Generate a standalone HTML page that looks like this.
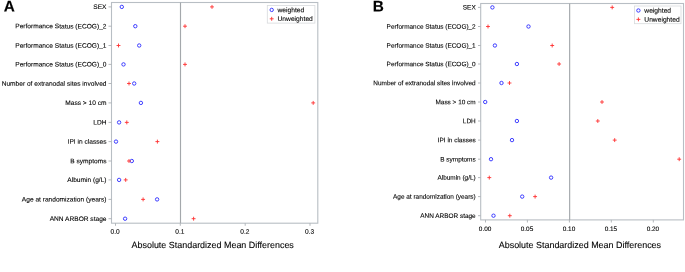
<!DOCTYPE html>
<html><head><meta charset="utf-8"><style>
html,body{margin:0;padding:0;background:#fff;}
svg{display:block;will-change:transform;font-family:"Liberation Sans",sans-serif;}
text{fill:#000;stroke:#000;stroke-width:0.1px;text-rendering:geometricPrecision;}
</style></head><body>
<svg width="685" height="272" viewBox="0 0 685 272">
<rect width="685" height="272" fill="#fff"/>
<rect x="111.5" y="2.5" width="206.3" height="220.7" fill="#fff" stroke="#b8bec4" stroke-width="1.1"/>
<line x1="180.5" y1="2.5" x2="180.5" y2="223.2" stroke="#a4a8ac" stroke-width="1.15"/>
<line x1="108.5" y1="6.9" x2="111.5" y2="6.9" stroke="#acb0b4" stroke-width="0.9"/>
<text transform="translate(106.50,9.10) rotate(0.03)" text-anchor="end" font-size="6.6">SEX</text>
<line x1="108.5" y1="26.2" x2="111.5" y2="26.2" stroke="#acb0b4" stroke-width="0.9"/>
<text transform="translate(106.50,28.40) rotate(0.03)" text-anchor="end" font-size="6.6">Performance Status (ECOG)_2</text>
<line x1="108.5" y1="45.5" x2="111.5" y2="45.5" stroke="#acb0b4" stroke-width="0.9"/>
<text transform="translate(106.50,47.70) rotate(0.03)" text-anchor="end" font-size="6.6">Performance Status (ECOG)_1</text>
<line x1="108.5" y1="64.4" x2="111.5" y2="64.4" stroke="#acb0b4" stroke-width="0.9"/>
<text transform="translate(106.50,66.60) rotate(0.03)" text-anchor="end" font-size="6.6">Performance Status (ECOG)_0</text>
<line x1="108.5" y1="83.5" x2="111.5" y2="83.5" stroke="#acb0b4" stroke-width="0.9"/>
<text transform="translate(106.50,85.70) rotate(0.03)" text-anchor="end" font-size="6.6">Number of extranodal sites involved</text>
<line x1="108.5" y1="102.9" x2="111.5" y2="102.9" stroke="#acb0b4" stroke-width="0.9"/>
<text transform="translate(106.50,105.10) rotate(0.03)" text-anchor="end" font-size="6.6">Mass &gt; 10 cm</text>
<line x1="108.5" y1="122.4" x2="111.5" y2="122.4" stroke="#acb0b4" stroke-width="0.9"/>
<text transform="translate(106.50,124.60) rotate(0.03)" text-anchor="end" font-size="6.6">LDH</text>
<line x1="108.5" y1="141.6" x2="111.5" y2="141.6" stroke="#acb0b4" stroke-width="0.9"/>
<text transform="translate(106.50,143.80) rotate(0.03)" text-anchor="end" font-size="6.6">IPI in classes</text>
<line x1="108.5" y1="161.0" x2="111.5" y2="161.0" stroke="#acb0b4" stroke-width="0.9"/>
<text transform="translate(106.50,163.20) rotate(0.03)" text-anchor="end" font-size="6.6">B symptoms</text>
<line x1="108.5" y1="179.9" x2="111.5" y2="179.9" stroke="#acb0b4" stroke-width="0.9"/>
<text transform="translate(106.50,182.10) rotate(0.03)" text-anchor="end" font-size="6.6">Albumin (g/L)</text>
<line x1="108.5" y1="199.4" x2="111.5" y2="199.4" stroke="#acb0b4" stroke-width="0.9"/>
<text transform="translate(106.50,201.60) rotate(0.03)" text-anchor="end" font-size="6.6">Age at randomization (years)</text>
<line x1="108.5" y1="218.7" x2="111.5" y2="218.7" stroke="#acb0b4" stroke-width="0.9"/>
<text transform="translate(106.50,220.90) rotate(0.03)" text-anchor="end" font-size="6.6">ANN ARBOR stage</text>
<line x1="115.5" y1="223.2" x2="115.5" y2="225.79999999999998" stroke="#acb0b4" stroke-width="0.9"/>
<text transform="translate(115.10,233.80) rotate(0.03)" text-anchor="middle" font-size="6.6">0.0</text>
<line x1="180.3" y1="223.2" x2="180.3" y2="225.79999999999998" stroke="#acb0b4" stroke-width="0.9"/>
<text transform="translate(179.90,233.80) rotate(0.03)" text-anchor="middle" font-size="6.6">0.1</text>
<line x1="245.2" y1="223.2" x2="245.2" y2="225.79999999999998" stroke="#acb0b4" stroke-width="0.9"/>
<text transform="translate(244.80,233.80) rotate(0.03)" text-anchor="middle" font-size="6.6">0.2</text>
<line x1="310.0" y1="223.2" x2="310.0" y2="225.79999999999998" stroke="#acb0b4" stroke-width="0.9"/>
<text transform="translate(309.60,233.80) rotate(0.03)" text-anchor="middle" font-size="6.6">0.3</text>
<text transform="translate(212.70,248.00) rotate(0.03)" text-anchor="middle" font-size="8.95">Absolute Standardized Mean Differences</text>
<circle cx="121.8" cy="6.9" r="1.7" fill="none" stroke="#2a2aff" stroke-width="0.9"/>
<path d="M210.05 6.9H213.95M212.0 4.95V8.85" stroke="#ff3030" stroke-width="0.9" fill="none"/>
<circle cx="135.3" cy="26.2" r="1.7" fill="none" stroke="#2a2aff" stroke-width="0.9"/>
<path d="M183.05 26.2H186.95M185.0 24.25V28.15" stroke="#ff3030" stroke-width="0.9" fill="none"/>
<circle cx="139.2" cy="45.5" r="1.7" fill="none" stroke="#2a2aff" stroke-width="0.9"/>
<path d="M116.55 45.5H120.45M118.5 43.55V47.45" stroke="#ff3030" stroke-width="0.9" fill="none"/>
<circle cx="123.5" cy="64.4" r="1.7" fill="none" stroke="#2a2aff" stroke-width="0.9"/>
<path d="M183.05 64.4H186.95M185.0 62.45V66.35" stroke="#ff3030" stroke-width="0.9" fill="none"/>
<circle cx="134.2" cy="83.5" r="1.7" fill="none" stroke="#2a2aff" stroke-width="0.9"/>
<path d="M127.05 83.5H130.95M129.0 81.55V85.45" stroke="#ff3030" stroke-width="0.9" fill="none"/>
<circle cx="140.9" cy="102.9" r="1.7" fill="none" stroke="#2a2aff" stroke-width="0.9"/>
<path d="M311.25 102.9H315.15M313.2 100.95V104.85" stroke="#ff3030" stroke-width="0.9" fill="none"/>
<circle cx="119.1" cy="122.4" r="1.7" fill="none" stroke="#2a2aff" stroke-width="0.9"/>
<path d="M124.85 122.4H128.75M126.8 120.45V124.35" stroke="#ff3030" stroke-width="0.9" fill="none"/>
<circle cx="116.0" cy="141.6" r="1.7" fill="none" stroke="#2a2aff" stroke-width="0.9"/>
<path d="M155.45 141.6H159.35M157.4 139.65V143.55" stroke="#ff3030" stroke-width="0.9" fill="none"/>
<circle cx="131.8" cy="161.0" r="1.7" fill="none" stroke="#2a2aff" stroke-width="0.9"/>
<path d="M127.05 161.0H130.95M129.0 159.05V162.95" stroke="#ff3030" stroke-width="0.9" fill="none"/>
<circle cx="119.1" cy="179.9" r="1.7" fill="none" stroke="#2a2aff" stroke-width="0.9"/>
<path d="M123.75 179.9H127.65M125.7 177.95V181.85" stroke="#ff3030" stroke-width="0.9" fill="none"/>
<circle cx="157.1" cy="199.4" r="1.7" fill="none" stroke="#2a2aff" stroke-width="0.9"/>
<path d="M141.15 199.4H145.05M143.1 197.45V201.35" stroke="#ff3030" stroke-width="0.9" fill="none"/>
<circle cx="125.1" cy="218.7" r="1.7" fill="none" stroke="#2a2aff" stroke-width="0.9"/>
<path d="M191.65 218.7H195.55M193.6 216.75V220.65" stroke="#ff3030" stroke-width="0.9" fill="none"/>
<rect x="267.3" y="5.4" width="47.6" height="17.7" fill="#fff" stroke="#d8dadc" stroke-width="0.8"/>
<circle cx="271.7" cy="9.9" r="1.7" fill="none" stroke="#2a2aff" stroke-width="0.9"/>
<path d="M269.75 18.8H273.65M271.7 16.85V20.75" stroke="#ff3030" stroke-width="0.9" fill="none"/>
<text transform="translate(277.50,12.20) rotate(0.03)" text-anchor="start" font-size="6.7" stroke="none" fill="#222">weighted</text>
<text transform="translate(277.50,21.10) rotate(0.03)" text-anchor="start" font-size="6.7" stroke="none" fill="#222">Unweighted</text>
<text transform="translate(3.67,11.55) rotate(0.03)" font-size="15.36" font-weight="bold" style="stroke-width:0.15px">A</text>
<rect x="480.7" y="3.5" width="202.8" height="216.4" fill="#fff" stroke="#b8bec4" stroke-width="1.1"/>
<line x1="569.65" y1="3.5" x2="569.65" y2="219.9" stroke="#a4a8ac" stroke-width="1.15"/>
<line x1="478.0" y1="7.4" x2="480.7" y2="7.4" stroke="#acb0b4" stroke-width="0.9"/>
<text transform="translate(475.70,9.60) rotate(0.03)" text-anchor="end" font-size="6.45">SEX</text>
<line x1="478.0" y1="26.5" x2="480.7" y2="26.5" stroke="#acb0b4" stroke-width="0.9"/>
<text transform="translate(475.70,28.70) rotate(0.03)" text-anchor="end" font-size="6.45">Performance Status (ECOG)_2</text>
<line x1="478.0" y1="45.5" x2="480.7" y2="45.5" stroke="#acb0b4" stroke-width="0.9"/>
<text transform="translate(475.70,47.70) rotate(0.03)" text-anchor="end" font-size="6.45">Performance Status (ECOG)_1</text>
<line x1="478.0" y1="64.0" x2="480.7" y2="64.0" stroke="#acb0b4" stroke-width="0.9"/>
<text transform="translate(475.70,66.20) rotate(0.03)" text-anchor="end" font-size="6.45">Performance Status (ECOG)_0</text>
<line x1="478.0" y1="83.0" x2="480.7" y2="83.0" stroke="#acb0b4" stroke-width="0.9"/>
<text transform="translate(475.70,85.20) rotate(0.03)" text-anchor="end" font-size="6.45">Number of extranodal sites involved</text>
<line x1="478.0" y1="102.0" x2="480.7" y2="102.0" stroke="#acb0b4" stroke-width="0.9"/>
<text transform="translate(475.70,104.20) rotate(0.03)" text-anchor="end" font-size="6.45">Mass &gt; 10 cm</text>
<line x1="478.0" y1="121.0" x2="480.7" y2="121.0" stroke="#acb0b4" stroke-width="0.9"/>
<text transform="translate(475.70,123.20) rotate(0.03)" text-anchor="end" font-size="6.45">LDH</text>
<line x1="478.0" y1="140.1" x2="480.7" y2="140.1" stroke="#acb0b4" stroke-width="0.9"/>
<text transform="translate(475.70,142.30) rotate(0.03)" text-anchor="end" font-size="6.45">IPI in classes</text>
<line x1="478.0" y1="159.2" x2="480.7" y2="159.2" stroke="#acb0b4" stroke-width="0.9"/>
<text transform="translate(475.70,161.40) rotate(0.03)" text-anchor="end" font-size="6.45">B symptoms</text>
<line x1="478.0" y1="177.6" x2="480.7" y2="177.6" stroke="#acb0b4" stroke-width="0.9"/>
<text transform="translate(475.70,179.80) rotate(0.03)" text-anchor="end" font-size="6.45">Albumin (g/L)</text>
<line x1="478.0" y1="196.6" x2="480.7" y2="196.6" stroke="#acb0b4" stroke-width="0.9"/>
<text transform="translate(475.70,198.80) rotate(0.03)" text-anchor="end" font-size="6.45">Age at randomization (years)</text>
<line x1="478.0" y1="215.7" x2="480.7" y2="215.7" stroke="#acb0b4" stroke-width="0.9"/>
<text transform="translate(475.70,217.90) rotate(0.03)" text-anchor="end" font-size="6.45">ANN ARBOR stage</text>
<line x1="485.5" y1="219.9" x2="485.5" y2="222.5" stroke="#acb0b4" stroke-width="0.9"/>
<text transform="translate(485.10,231.00) rotate(0.03)" text-anchor="middle" font-size="6.45">0.00</text>
<line x1="527.4" y1="219.9" x2="527.4" y2="222.5" stroke="#acb0b4" stroke-width="0.9"/>
<text transform="translate(527.00,231.00) rotate(0.03)" text-anchor="middle" font-size="6.45">0.05</text>
<line x1="569.4" y1="219.9" x2="569.4" y2="222.5" stroke="#acb0b4" stroke-width="0.9"/>
<text transform="translate(569.00,231.00) rotate(0.03)" text-anchor="middle" font-size="6.45">0.10</text>
<line x1="611.3" y1="219.9" x2="611.3" y2="222.5" stroke="#acb0b4" stroke-width="0.9"/>
<text transform="translate(610.90,231.00) rotate(0.03)" text-anchor="middle" font-size="6.45">0.15</text>
<line x1="653.3" y1="219.9" x2="653.3" y2="222.5" stroke="#acb0b4" stroke-width="0.9"/>
<text transform="translate(652.90,231.00) rotate(0.03)" text-anchor="middle" font-size="6.45">0.20</text>
<text transform="translate(579.90,248.00) rotate(0.03)" text-anchor="middle" font-size="8.95">Absolute Standardized Mean Differences</text>
<circle cx="492.4" cy="7.4" r="1.7" fill="none" stroke="#2a2aff" stroke-width="0.9"/>
<path d="M610.25 7.4H614.15M612.2 5.45V9.35" stroke="#ff3030" stroke-width="0.9" fill="none"/>
<circle cx="528.5" cy="26.5" r="1.7" fill="none" stroke="#2a2aff" stroke-width="0.9"/>
<path d="M486.05 26.5H489.95M488.0 24.55V28.45" stroke="#ff3030" stroke-width="0.9" fill="none"/>
<circle cx="494.9" cy="45.5" r="1.7" fill="none" stroke="#2a2aff" stroke-width="0.9"/>
<path d="M550.25 45.5H554.15M552.2 43.55V47.45" stroke="#ff3030" stroke-width="0.9" fill="none"/>
<circle cx="516.9" cy="64.0" r="1.7" fill="none" stroke="#2a2aff" stroke-width="0.9"/>
<path d="M557.15 64.0H561.05M559.1 62.05V65.95" stroke="#ff3030" stroke-width="0.9" fill="none"/>
<circle cx="501.5" cy="83.0" r="1.7" fill="none" stroke="#2a2aff" stroke-width="0.9"/>
<path d="M507.55 83.0H511.45M509.5 81.05V84.95" stroke="#ff3030" stroke-width="0.9" fill="none"/>
<circle cx="485.2" cy="102.0" r="1.7" fill="none" stroke="#2a2aff" stroke-width="0.9"/>
<path d="M600.05 102.0H603.95M602.0 100.05V103.95" stroke="#ff3030" stroke-width="0.9" fill="none"/>
<circle cx="516.9" cy="121.0" r="1.7" fill="none" stroke="#2a2aff" stroke-width="0.9"/>
<path d="M595.85 121.0H599.75M597.8 119.05V122.95" stroke="#ff3030" stroke-width="0.9" fill="none"/>
<circle cx="512.0" cy="140.1" r="1.7" fill="none" stroke="#2a2aff" stroke-width="0.9"/>
<path d="M612.75 140.1H616.65M614.7 138.15V142.05" stroke="#ff3030" stroke-width="0.9" fill="none"/>
<circle cx="491.0" cy="159.2" r="1.7" fill="none" stroke="#2a2aff" stroke-width="0.9"/>
<path d="M677.25 159.2H681.15M679.2 157.25V161.15" stroke="#ff3030" stroke-width="0.9" fill="none"/>
<circle cx="551.1" cy="177.6" r="1.7" fill="none" stroke="#2a2aff" stroke-width="0.9"/>
<path d="M487.35 177.6H491.25M489.3 175.65V179.55" stroke="#ff3030" stroke-width="0.9" fill="none"/>
<circle cx="522.2" cy="196.6" r="1.7" fill="none" stroke="#2a2aff" stroke-width="0.9"/>
<path d="M533.15 196.6H537.05M535.1 194.65V198.55" stroke="#ff3030" stroke-width="0.9" fill="none"/>
<circle cx="493.5" cy="215.7" r="1.7" fill="none" stroke="#2a2aff" stroke-width="0.9"/>
<path d="M507.85 215.7H511.75M509.8 213.75V217.65" stroke="#ff3030" stroke-width="0.9" fill="none"/>
<rect x="634.6" y="6.0" width="46.4" height="17.7" fill="#fff" stroke="#d8dadc" stroke-width="0.8"/>
<circle cx="638.4" cy="10.5" r="1.7" fill="none" stroke="#2a2aff" stroke-width="0.9"/>
<path d="M636.45 19.4H640.35M638.4 17.45V21.35" stroke="#ff3030" stroke-width="0.9" fill="none"/>
<text transform="translate(644.30,12.80) rotate(0.03)" text-anchor="start" font-size="6.7" stroke="none" fill="#222">weighted</text>
<text transform="translate(644.30,21.70) rotate(0.03)" text-anchor="start" font-size="6.7" stroke="none" fill="#222">Unweighted</text>
<text transform="translate(372.87,11.55) rotate(0.03)" font-size="15.36" font-weight="bold" style="stroke-width:0.15px">B</text>
</svg>
</body></html>
